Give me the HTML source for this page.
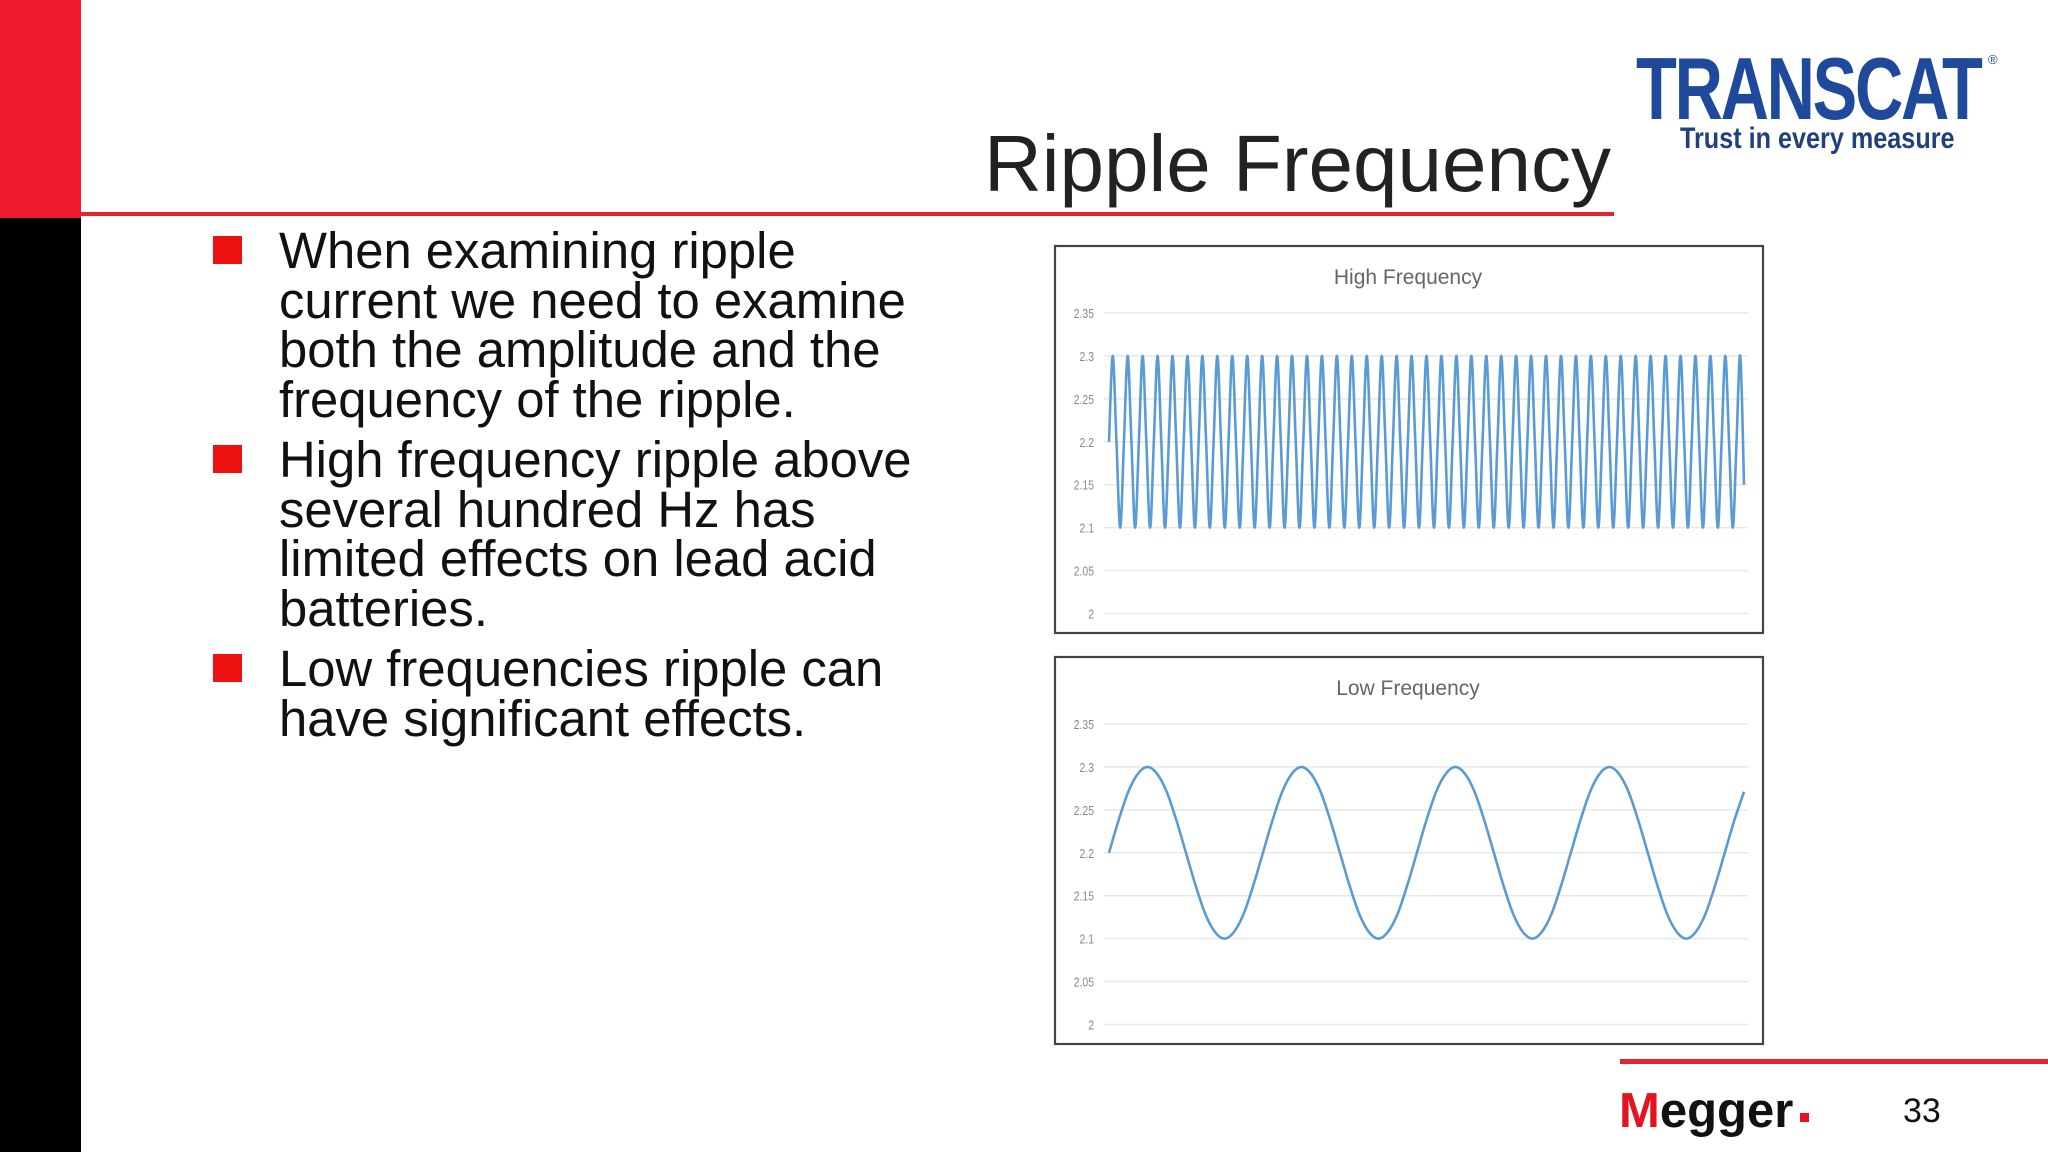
<!DOCTYPE html>
<html><head><meta charset="utf-8"><style>
html,body{margin:0;padding:0}
body{width:2048px;height:1152px;position:relative;background:#fff;overflow:hidden;font-family:"Liberation Sans",Arial,sans-serif}
.abs{position:absolute}
.bul{position:absolute;left:213px;width:29px;height:28px;background:#ee1111}
.txt{position:absolute;left:279px;font-size:50.8px;line-height:49.6px;color:#111;white-space:nowrap}
</style></head><body>
<div class="abs" style="left:0;top:0;width:81px;height:218px;background:#ee1c2e"></div>
<div class="abs" style="left:0;top:218px;width:81px;height:934px;background:#000"></div>
<div class="abs" style="left:81px;top:212px;width:1533px;height:4px;background:#e3242f"></div>
<div class="abs" style="right:437px;top:118px;font-size:80px;line-height:92px;color:#222">Ripple Frequency</div>

<div class="abs" style="left:1636px;top:44px;font-size:88px;font-weight:bold;color:#1f4a9c;letter-spacing:-3px;transform:scaleX(0.76);transform-origin:left top;line-height:90px">TRANSCAT</div>
<div class="abs" style="left:1988px;top:52px;font-size:13px;color:#1f4a9c">®</div>
<div class="abs" style="left:1680px;top:122px;font-size:30px;font-weight:bold;color:#23407e;transform:scaleX(0.84);transform-origin:left top;white-space:nowrap">Trust in every measure</div>

<div class="bul" style="top:236px"></div>
<div class="txt" style="top:226px">When examining ripple<br>current we need to examine<br>both the amplitude and the<br>frequency of the ripple.</div>
<div class="bul" style="top:445px"></div>
<div class="txt" style="top:435px">High frequency ripple above<br>several hundred Hz has<br>limited effects on lead acid<br>batteries.</div>
<div class="bul" style="top:654px"></div>
<div class="txt" style="top:644px">Low frequencies ripple can<br>have significant effects.</div>

<svg class="abs" style="left:0;top:0" width="2048" height="1152" id="charts"></svg>

<div class="abs" style="left:1620px;top:1059px;width:428px;height:5px;background:#e3242f"></div>
<div class="abs" style="left:1619px;top:1084px;font-size:49px;font-weight:bold;letter-spacing:0px;line-height:54px;color:#111"><span style="color:#e3141f">M</span>egger</div>
<div class="abs" style="left:1800px;top:1113px;width:9px;height:9px;background:#e3141f"></div>
<div class="abs" style="left:1903px;top:1092px;font-size:34px;color:#111">33</div>

<script>
const tickValues=[2,2.05,2.1,2.15,2.2,2.25,2.3,2.35];
const tickLabels=["2","2.05","2.1","2.15","2.2","2.25","2.3","2.35"];
const chartTitles=["High Frequency","Low Frequency"];
const highFreqValues=[2.2,
2.3,2.2,2.1,2.2,2.3,2.2,2.1,2.2,2.3,2.2,2.1,2.2,2.3,2.2,2.1,2.2,2.3,2.2,2.1,2.2,
2.3,2.2,2.1,2.2,2.3,2.2,2.1,2.2,2.3,2.2,2.1,2.2,2.3,2.2,2.1,2.2,2.3,2.2,2.1,2.2,
2.3,2.2,2.1,2.2,2.3,2.2,2.1,2.2,2.3,2.2,2.1,2.2,2.3,2.2,2.1,2.2,2.3,2.2,2.1,2.2,
2.3,2.2,2.1,2.2,2.3,2.2,2.1,2.2,2.3,2.2,2.1,2.2,2.3,2.2,2.1,2.2,2.3,2.2,2.1,2.2,
2.3,2.2,2.1,2.2,2.3,2.2,2.1,2.2,2.3,2.2,2.1,2.2,2.3,2.2,2.1,2.2,2.3,2.2,2.1,2.2,
2.3,2.2,2.1,2.2,2.3,2.2,2.1,2.2,2.3,2.2,2.1,2.2,2.3,2.2,2.1,2.2,2.3,2.2,2.1,2.2,
2.3,2.2,2.1,2.2,2.3,2.2,2.1,2.2,2.3,2.2,2.1,2.2,2.3,2.2,2.1,2.2,2.3,2.2,2.1,2.2,
2.3,2.2,2.1,2.2,2.3,2.2,2.1,2.2,2.3,2.2,2.1,2.2,2.3,2.2,2.1,2.2,2.3,2.2,2.1,2.2,
2.3,2.2,2.1,2.2,2.3,2.2,2.1,2.2,
2.3,2.15];
const lowFreqValues=[2.2,2.238,2.271,2.292,2.3,2.292,2.271,2.238,2.2,2.162,2.129,2.108,2.1,2.108,2.129,2.162,
2.2,2.238,2.271,2.292,2.3,2.292,2.271,2.238,2.2,2.162,2.129,2.108,2.1,2.108,2.129,2.162,
2.2,2.238,2.271,2.292,2.3,2.292,2.271,2.238,2.2,2.162,2.129,2.108,2.1,2.108,2.129,2.162,
2.2,2.238,2.271,2.292,2.3,2.292,2.271,2.238,2.2,2.162,2.129,2.108,2.1,2.108,2.129,2.162,
2.2,2.238,2.271];

const NS="http://www.w3.org/2000/svg";
const svg=document.getElementById('charts');
function mk(tag,attrs,parent){const e=document.createElementNS(NS,tag);for(const k in attrs)e.setAttribute(k,attrs[k]);(parent||svg).appendChild(e);return e;}

function drawChart(idx,top,values,smooth){
  const g=mk('g',{});
  
  
  const box=mk('rect',{x:1055,y:top,width:708,height:387,fill:'#fff',stroke:'#444','stroke-width':2.2},g);
  
  
  const y2=top+367.5, y235=top+67;
  const yS=v=>y2-(v-2)/0.35*(y2-y235);
  const x0=1109,x1=1744;
  const xS=i=>x0+i/(values.length-1)*(x1-x0);
  const t=mk('text',{x:1408,y:top+38,'text-anchor':'middle','font-size':21,fill:'#666','font-family':'"Liberation Sans",sans-serif'},g);
  t.textContent=chartTitles[idx];
  
  
  tickValues.forEach((v,i)=>{
    const gl=mk('line',{x1:1104,x2:1748,y1:yS(v),y2:yS(v),stroke:'#e8e8e8','stroke-width':1.5},g);
    
    
    const tl=mk('text',{x:1094,y:yS(v)+5,'text-anchor':'end','font-size':13,fill:'#888','font-family':'"Liberation Sans",sans-serif',transform:`translate(1094 0) scale(0.8 1) translate(-1094 0)`},g);
    tl.textContent=tickLabels[i];
    
    
  });
  let d='';
  if(smooth){
    const p=values.map((v,i)=>[xS(i),yS(v)]);
    d='M'+p[0][0]+','+p[0][1];
    for(let i=0;i<p.length-1;i++){
      const a=p[Math.max(0,i-1)],b=p[i],c=p[i+1],e=p[Math.min(p.length-1,i+2)];
      d+=` C${b[0]+(c[0]-a[0])/6},${b[1]+(c[1]-a[1])/6} ${c[0]-(e[0]-b[0])/6},${c[1]-(e[1]-b[1])/6} ${c[0]},${c[1]}`;
    }
  } else {
    d=values.map((v,i)=>(i?'L':'M')+xS(i).toFixed(2)+','+yS(v).toFixed(2)).join(' ');
  }
  const path=mk('path',{d:d,fill:'none',stroke:'#5b9bd5','stroke-width':smooth?2.6:2.8,'stroke-linejoin':'round'},g);
  
  
}
drawChart(0,246,highFreqValues,true);
drawChart(1,657,lowFreqValues,true);
</script>
</body></html>
